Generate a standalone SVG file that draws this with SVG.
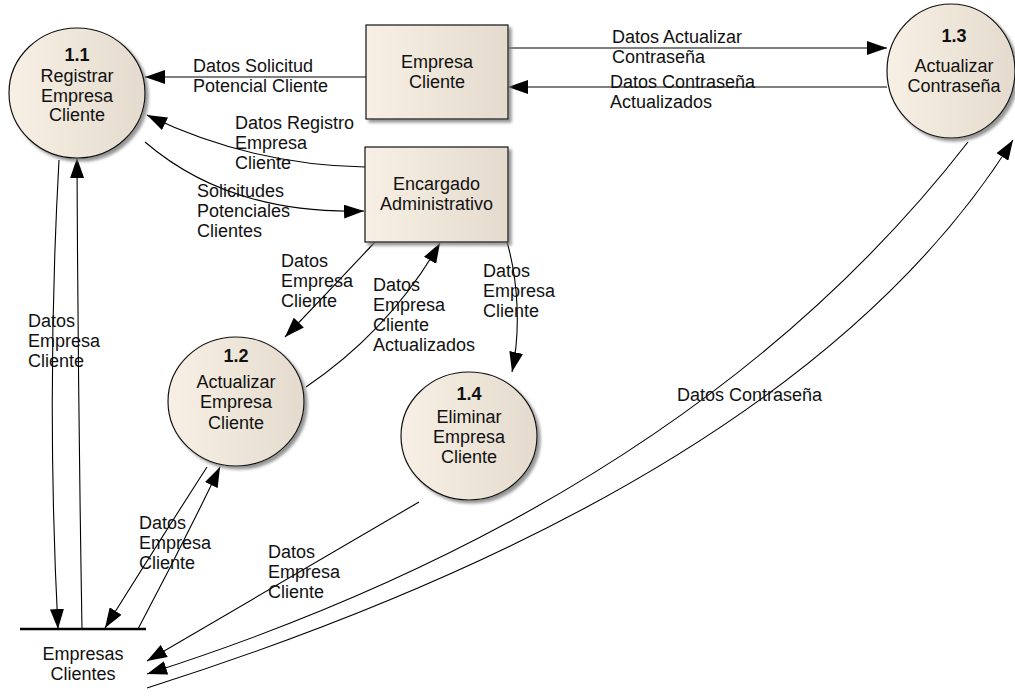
<svg xmlns="http://www.w3.org/2000/svg" width="1015" height="698" viewBox="0 0 1015 698">
<defs>
<linearGradient id="fillG" x1="0" y1="0" x2="1" y2="0">
<stop offset="0" stop-color="#f8f0e4"/>
<stop offset="1" stop-color="#e4dbce"/>
</linearGradient>
<filter id="sh" x="-10%" y="-10%" width="130%" height="130%">
<feDropShadow dx="3" dy="3" stdDeviation="1.5" flood-color="#7a7a7a" flood-opacity="0.8"/>
</filter>
<marker id="arr" markerUnits="userSpaceOnUse" markerWidth="20" markerHeight="14" refX="20" refY="7" orient="auto">
<path d="M0,0 L20,7 L0,14 z" fill="#000"/>
</marker>
</defs>
<style>
text{font-family:"Liberation Sans",Arial,sans-serif;font-size:18px;fill:#111}
.c{text-anchor:middle}
.b{font-weight:bold}
.node{fill:url(#fillG);stroke:#111;stroke-width:1.2;filter:url(#sh)}
.flow{fill:none;stroke:#000;stroke-width:1.1}
.arr{marker-end:url(#arr)}
</style>

<g id="connectors">
<path class="flow arr" d="M366,77 L145,77"/>
<path class="flow arr" d="M365,167 Q250,165 147,115"/>
<path class="flow arr" d="M145,142 Q230,215 364,211"/>
<path class="flow arr" d="M508,48 L887,48"/>
<path class="flow arr" d="M887,87 L508,87"/>
<path class="flow arr" d="M375,242 Q330,290 285,337"/>
<path class="flow arr" d="M306,387 Q390,330 440,243"/>
<path class="flow arr" d="M507,242 C518,280 521,330 512,372"/>
<path class="flow arr" d="M207,467 Q160,540 105,628"/>
<path class="flow arr" d="M138,629 Q180,550 220,467"/>
<path class="flow arr" d="M59,160 Q46,395 58,629"/>
<path class="flow arr" d="M82,629 Q78,395 77,158"/>
<path class="flow arr" d="M419,502 L147,661"/>
<path class="flow arr" d="M968,142 Q690,500 147,674"/>
<path class="flow arr" d="M147,688 Q800,480 1013,140"/>
<g id="labels">
<text x="193" y="72">Datos Solicitud</text>
<text x="193" y="92">Potencial Cliente</text>
<text x="235" y="129">Datos Registro</text>
<text x="235" y="149">Empresa</text>
<text x="235" y="169">Cliente</text>
<text x="197" y="197">Solicitudes</text>
<text x="197" y="217">Potenciales</text>
<text x="197" y="237">Clientes</text>
<text x="612" y="43">Datos Actualizar</text>
<text x="612" y="63">Contraseña</text>
<text x="610" y="88">Datos Contraseña</text>
<text x="610" y="108">Actualizados</text>
<text x="281" y="267">Datos</text>
<text x="281" y="287">Empresa</text>
<text x="281" y="307">Cliente</text>
<text x="373" y="291">Datos</text>
<text x="373" y="311">Empresa</text>
<text x="373" y="331">Cliente</text>
<text x="373" y="351">Actualizados</text>
<text x="483" y="277">Datos</text>
<text x="483" y="297">Empresa</text>
<text x="483" y="317">Cliente</text>
<text x="28" y="327">Datos</text>
<text x="28" y="347">Empresa</text>
<text x="28" y="367">Cliente</text>
<text x="139" y="529">Datos</text>
<text x="139" y="549">Empresa</text>
<text x="139" y="569">Cliente</text>
<text x="268" y="558">Datos</text>
<text x="268" y="578">Empresa</text>
<text x="268" y="598">Cliente</text>
<text x="677" y="401">Datos Contraseña</text>
</g>
</g>

<g id="p11">
<ellipse class="node" cx="77" cy="93" rx="68" ry="65"/>
<text class="c b" x="77" y="61">1.1</text>
<text class="c" x="77" y="82">Registrar</text>
<text class="c" x="77" y="101.5">Empresa</text>
<text class="c" x="77" y="121">Cliente</text>
</g>

<g id="empresaCliente">
<rect class="node" x="366" y="25" width="142" height="94"/>
<text class="c" x="437" y="68">Empresa</text>
<text class="c" x="437" y="88">Cliente</text>
</g>

<g id="encargado">
<rect class="node" x="365" y="147" width="143" height="95"/>
<text class="c" x="436.5" y="190">Encargado</text>
<text class="c" x="436.5" y="210">Administrativo</text>
</g>

<g id="p13">
<ellipse class="node" cx="951" cy="71" rx="64" ry="67"/>
<text class="c b" x="954" y="42">1.3</text>
<text class="c" x="954" y="72">Actualizar</text>
<text class="c" x="954" y="92">Contraseña</text>
</g>

<g id="p12">
<ellipse class="node" cx="236" cy="401.5" rx="68" ry="64.5"/>
<text class="c b" x="236" y="362">1.2</text>
<text class="c" x="236" y="388">Actualizar</text>
<text class="c" x="236" y="408">Empresa</text>
<text class="c" x="236" y="429">Cliente</text>
</g>

<g id="p14">
<ellipse class="node" cx="469" cy="436" rx="68" ry="64"/>
<text class="c b" x="469" y="400">1.4</text>
<text class="c" x="469" y="423">Eliminar</text>
<text class="c" x="469" y="443">Empresa</text>
<text class="c" x="469" y="463">Cliente</text>
</g>

<g id="store">
<line x1="20" y1="629" x2="146" y2="629" stroke="#000" stroke-width="2.5"/>
<text class="c" x="83" y="660">Empresas</text>
<text class="c" x="83" y="680">Clientes</text>
</g>
</svg>
